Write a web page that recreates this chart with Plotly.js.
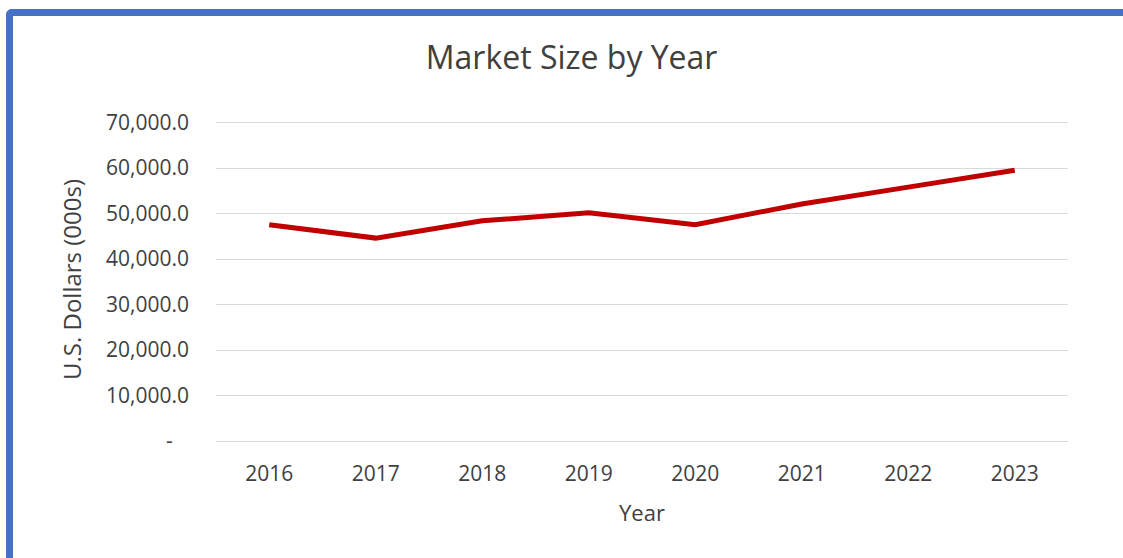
<!DOCTYPE html>
<html>
<head>
<meta charset="utf-8">
<script src="https://cdn.plot.ly/plotly-3.0.1.min.js"></script>
<style>
  html, body { margin: 0; padding: 0; background: #ffffff; overflow: hidden; }
  #frame {
    position: absolute; left: 6px; top: 9px; width: 1300px; height: 700px;
    border-left: 7px solid #4472C4; border-top: 7px solid #4472C4;
    border-top-left-radius: 6px; box-sizing: border-box;
  }
  #chart { position: absolute; left: 0; top: 0; width: 1123px; height: 558px; }
</style>
</head>
<body>
<div id="frame"></div>
<div id="chart"></div>
<script>
const years = ["2016", "2017", "2018", "2019", "2020", "2021", "2022", "2023"];
const marketSize = [47550, 44600, 48400, 50150, 47550, 52100, 55800, 59500];
const yTickVals = [0, 10000, 20000, 30000, 40000, 50000, 60000, 70000];
const yTickText = ["-\u00a0\u00a0\u00a0", "10,000.0", "20,000.0", "30,000.0", "40,000.0", "50,000.0", "60,000.0", "70,000.0"];

const FONT = "'Open Sans', 'Liberation Sans', sans-serif";
const TXT = "#404040";

const data = [{
  type: "scatter",
  mode: "lines",
  x: years,
  y: marketSize,
  line: { color: "#C00000", width: 5, shape: "linear" },
  hoverinfo: "x+y"
}];

const layout = {
  width: 1123, height: 558,
  paper_bgcolor: "rgba(0,0,0,0)",
  plot_bgcolor: "rgba(0,0,0,0)",
  margin: { l: 216, r: 55, t: 118, b: 117 },
  showlegend: false,
  font: { family: FONT, color: TXT, size: 21 },
  title: {
    text: "Market Size by Year",
    font: { family: FONT, size: 32, color: TXT },
    x: 0.509, xanchor: "center",
    y: 0.897, yanchor: "middle", yref: "container"
  },
  xaxis: {
    type: "category",
    range: [-0.5, 7.5],
    showgrid: false,
    zeroline: false,
    showline: false,
    ticks: "",
    ticklabelstandoff: 18,
    tickfont: { family: FONT, size: 21, color: TXT },
    title: { text: "Year", font: { family: FONT, size: 22, color: TXT }, standoff: 19 },
    automargin: false
  },
  yaxis: {
    range: [0, 71000],
    tickvals: yTickVals,
    ticktext: yTickText,
    showgrid: true,
    gridcolor: "#d9d9d9",
    gridwidth: 1.3,
    zeroline: true,
    zerolinecolor: "#d9d9d9",
    zerolinewidth: 1.3,
    showline: false,
    ticks: "",
    ticklabelstandoff: 26,
    tickfont: { family: FONT, size: 21, color: TXT },
    title: { text: "U.S. Dollars (000s)", font: { family: FONT, size: 24, color: TXT }, standoff: 17 },
    automargin: false
  }
};

Plotly.newPlot("chart", data, layout, { displayModeBar: false });
</script>
</body>
</html>
